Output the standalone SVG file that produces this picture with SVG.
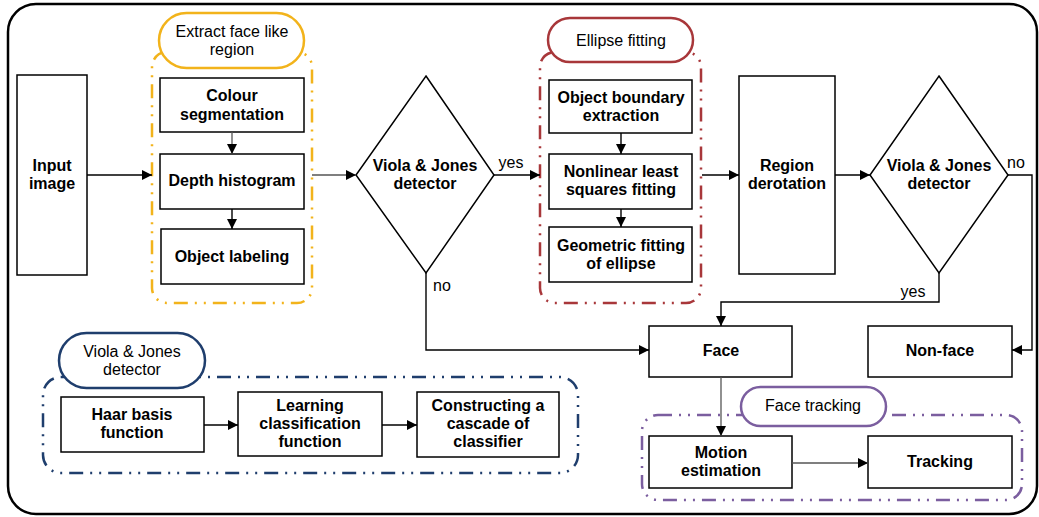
<svg xmlns="http://www.w3.org/2000/svg" width="1039" height="517" viewBox="0 0 1039 517">
<defs>
<marker id="ah" viewBox="0 0 10 10" refX="10" refY="5" markerWidth="10" markerHeight="10" markerUnits="userSpaceOnUse" orient="auto">
<path d="M0,0 L10,5 L0,10 z" fill="#000"/>
</marker>
<style>
.box{fill:#fff;stroke:#000;stroke-width:1.5}
.b{font-family:"Liberation Sans",Arial,sans-serif;font-weight:bold;font-size:16px;text-anchor:middle;fill:#000}
.r{font-family:"Liberation Sans",Arial,sans-serif;font-size:16px;text-anchor:middle;fill:#000}
.grp{fill:none;stroke-width:2.5;stroke-dasharray:14 7 2 7 2 7}
.pill{fill:#fff;stroke-width:2.5}
.c{fill:none;stroke:#000;stroke-width:1.4}
.cg{fill:none;stroke:#555;stroke-width:1.3}
</style>
</defs>
<rect x="8" y="4" width="1029" height="510" rx="28" fill="#fff" stroke="#000" stroke-width="2.5"/>

<g id="input-image"><rect class="box" x="17" y="75" width="70" height="200"/><text class="b" x="52" y="171">Input</text><text class="b" x="52" y="189">image</text></g>

<g id="extract-group">
<rect class="grp" stroke="#F2B31B" x="152" y="52" width="160" height="251" rx="15"/>
<rect class="pill" stroke="#F2B31B" x="159" y="13" width="145" height="55" rx="27.5"/>
<text class="r" x="232" y="37">Extract face like</text><text class="r" x="232" y="55">region</text>
</g>
<g id="colour-seg"><rect class="box" x="160" y="78" width="144" height="54"/><text class="b" x="232" y="101">Colour</text><text class="b" x="232" y="120">segmentation</text></g>
<g id="depth-hist"><rect class="box" x="160" y="154" width="144" height="55"/><text class="b" x="232" y="186">Depth histogram</text></g>
<g id="object-label"><rect class="box" x="161" y="229" width="143" height="55"/><text class="b" x="232" y="262">Object labeling</text></g>

<g id="vj1"><path class="box" d="M426,76 L494,175 L426,273 L356,175 Z"/><text class="b" x="425" y="171">Viola &amp; Jones</text><text class="b" x="425" y="189">detector</text></g>

<g id="ellipse-group">
<rect class="grp" stroke="#A8373A" x="540" y="52" width="161" height="251" rx="15"/>
<rect class="pill" stroke="#A8373A" x="548" y="18" width="145" height="44" rx="22"/>
<text class="r" x="621" y="46">Ellipse fitting</text>
</g>
<g id="obj-boundary"><rect class="box" x="549" y="80" width="143" height="53"/><text class="b" x="621" y="103">Object boundary</text><text class="b" x="621" y="121">extraction</text></g>
<g id="nonlinear"><rect class="box" x="549" y="154" width="143" height="55"/><text class="b" x="621" y="177">Nonlinear least</text><text class="b" x="621" y="195">squares fitting</text></g>
<g id="geometric"><rect class="box" x="549" y="227" width="143" height="55"/><text class="b" x="621" y="251">Geometric fitting</text><text class="b" x="621" y="269">of ellipse</text></g>

<g id="region-derot"><rect class="box" x="739" y="76" width="96" height="198"/><text class="b" x="787" y="171">Region</text><text class="b" x="787" y="189">derotation</text></g>

<g id="vj2"><path class="box" d="M939,76 L1008,175 L939,273 L870,175 Z"/><text class="b" x="939" y="171">Viola &amp; Jones</text><text class="b" x="939" y="189">detector</text></g>

<g id="face"><rect class="box" x="649" y="326" width="143" height="51"/><text class="b" x="721" y="356">Face</text></g>
<g id="non-face"><rect class="box" x="868" y="326" width="144" height="51"/><text class="b" x="940" y="356">Non-face</text></g>

<g id="tracking-group">
<rect class="grp" stroke="#7B5E9F" x="642" y="415" width="380" height="85" rx="16"/>
<rect class="pill" stroke="#7B5E9F" x="741" y="387" width="145" height="39" rx="19.5"/>
<text class="r" x="813" y="411">Face tracking</text>
</g>
<g id="motion"><rect class="box" x="649" y="436" width="143" height="52"/><text class="b" x="721" y="458">Motion</text><text class="b" x="721" y="476">estimation</text></g>
<g id="tracking"><rect class="box" x="868" y="436" width="144" height="52"/><text class="b" x="940" y="467">Tracking</text></g>

<g id="vj-group">
<rect class="grp" stroke="#1F3E6D" x="43" y="377" width="535" height="96" rx="18"/>
<rect class="pill" stroke="#1F3E6D" x="59" y="333" width="146" height="55" rx="27.5"/>
<text class="r" x="132" y="357">Viola &amp; Jones</text><text class="r" x="132" y="375">detector</text>
</g>
<g id="haar"><rect class="box" x="61" y="397" width="143" height="55"/><text class="b" x="132" y="420">Haar basis</text><text class="b" x="132" y="438">function</text></g>
<g id="learning"><rect class="box" x="238" y="392" width="144" height="64"/><text class="b" x="310" y="411">Learning</text><text class="b" x="310" y="429">classification</text><text class="b" x="310" y="447">function</text></g>
<g id="constructing"><rect class="box" x="417" y="392" width="142" height="65"/><text class="b" x="488" y="411">Constructing a</text><text class="b" x="488" y="429">cascade of</text><text class="b" x="488" y="447">classifier</text></g>

<g id="connectors">
<path class="c" d="M87,175 L152,175" marker-end="url(#ah)"/>
<path class="cg" d="M232,132 L232,154" marker-end="url(#ah)"/>
<path class="c" d="M232,209 L232,229" marker-end="url(#ah)"/>
<path class="cg" d="M312,175 L356,175" marker-end="url(#ah)"/>
<path class="c" d="M494,175 L540,175" marker-end="url(#ah)"/>
<path class="c" d="M621,133 L621,154" marker-end="url(#ah)"/>
<path class="c" d="M621,209 L621,227" marker-end="url(#ah)"/>
<path class="c" d="M702,175 L739,175" marker-end="url(#ah)"/>
<path class="c" d="M835,175 L870,175" marker-end="url(#ah)"/>
<path class="c" d="M426,273 L426,350 L649,350" marker-end="url(#ah)"/>
<path class="c" d="M939,273 L939,302 L721,302 L721,326" marker-end="url(#ah)"/>
<path class="c" d="M1008,175 L1032,175 L1032,350 L1012,350" marker-end="url(#ah)"/>
<path class="cg" d="M721,377 L721,436" marker-end="url(#ah)"/>
<path class="cg" d="M792,463 L868,463" marker-end="url(#ah)"/>
<path class="c" d="M204,425 L238,425" marker-end="url(#ah)"/>
<path class="c" d="M382,425 L417,425" marker-end="url(#ah)"/>
<text class="r" x="511" y="168">yes</text>
<text class="r" x="442" y="291">no</text>
<text class="r" x="1016" y="168">no</text>
<text class="r" x="913" y="297">yes</text>
</g>
</svg>
